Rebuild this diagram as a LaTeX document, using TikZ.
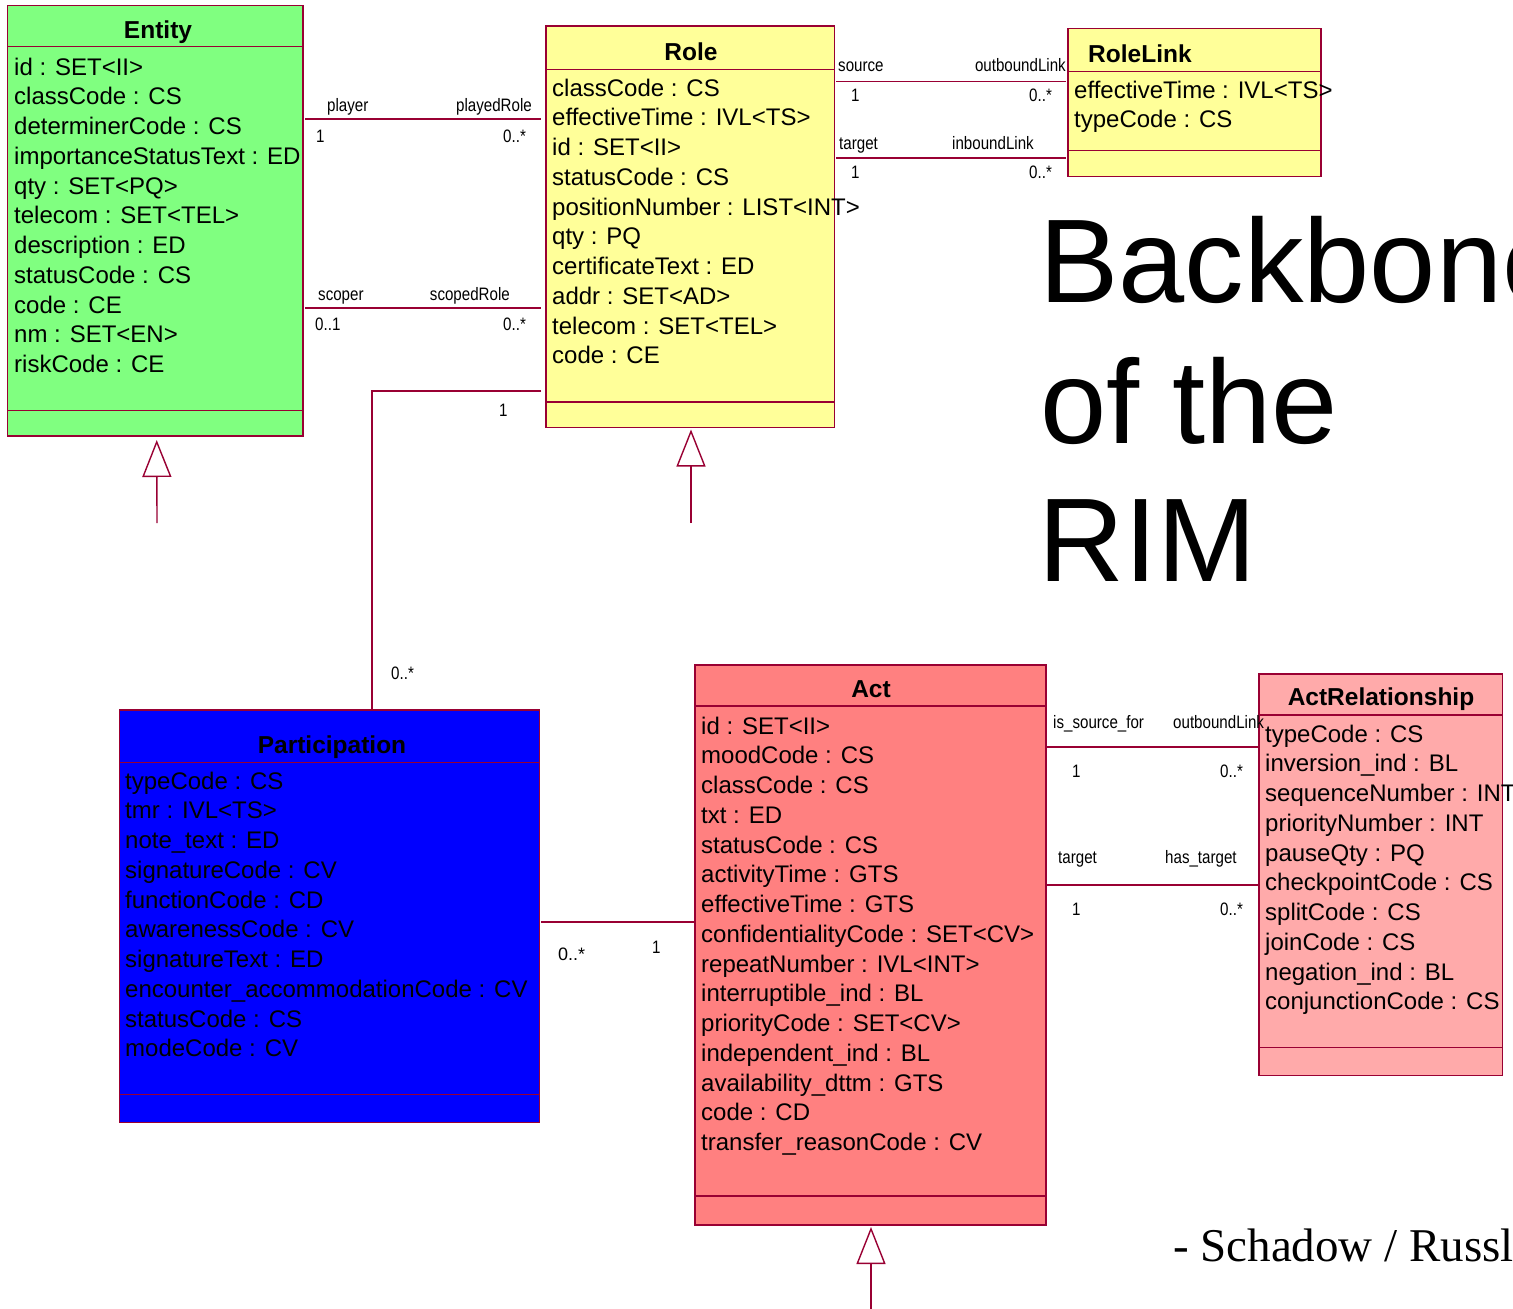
\documentclass[tikz,border=0pt]{standalone}
\usepackage{fontspec}
\setmainfont{Liberation Sans}
\newfontfamily\narrowf[FakeStretch=0.84]{Liberation Sans}
\newfontfamily\timesf{Liberation Serif}
\usetikzlibrary{arrows.meta}
\definecolor{bord}{RGB}{153,0,51}
\definecolor{entfill}{RGB}{128,255,128}
\definecolor{rolefill}{RGB}{255,255,153}
\definecolor{partfill}{RGB}{0,0,255}
\definecolor{actfill}{RGB}{255,128,128}
\definecolor{arfill}{RGB}{255,170,170}
\newcommand\attrlist[4]{%
  \foreach \t [count=\i] in {#4} {%
    \node[attr] (#1-\i) at (#2, {#3+(\i-1)*29.75}) {\t};}}
\newcommand\umlbox[8]{% name, fill, left, top, right, bottom, titlesep, bottomsep
  \node[umlbox, fill=#2, minimum width={(#5-#3)*1pt}, minimum height={(#6-#4)*1pt}, anchor=north west] (#1) at (#3,#4) {};
  \draw[boxline] (#3,#7) -- (#5,#7);
  \draw[boxline] (#3,#8) -- (#5,#8);}
\begin{document}
\begin{tikzpicture}[x=1pt,y=-1pt,
  umlbox/.style={draw=bord, line width=1.6pt, inner sep=0pt, outer sep=0pt},
  boxline/.style={draw=bord, line width=1.4pt},
  attr/.style={font=\fontsize{24}{29}\selectfont, anchor=base west, inner sep=0pt},
  title/.style={font=\bfseries\fontsize{24.5}{29}\selectfont, anchor=base, inner sep=0pt},
  lab/.style={font=\narrowf\fontsize{18}{20}\selectfont, inner sep=0pt, anchor=base west},
  labr/.style={lab, anchor=base east},
  assoc/.style={draw=bord, line width=1.3pt},
  gen/.style={draw=bord, line width=1.4pt, -{Triangle[open, length=37pt, width=29pt, line width=1.4pt]}},
  big/.style={font=\fontsize{119}{140}\selectfont, anchor=base west, inner sep=0pt}]
\useasboundingbox (0,0) rectangle (1513,1309);
\clip (0,0) rectangle (1513,1309);
\fill[white] (0,0) rectangle (1513,1309);

% ---------- Entity ----------
\umlbox{ent}{entfill}{7.5}{5.5}{303}{436}{46.7}{410.5}
\node[title] (entT) at (158,38) {Entity};
\attrlist{ent}{14}{75}{id : SET<II>, classCode : CS, determinerCode : CS, importanceStatusText : ED, qty : SET<PQ>, telecom : SET<TEL>, description : ED, statusCode : CS, code : CE, nm : SET<EN>, riskCode : CE}

% ---------- Role ----------
\umlbox{role}{rolefill}{546}{26}{834.5}{427.5}{69.3}{402}
\node[title] (roleT) at (691,60) {Role};
\attrlist{role}{552}{96}{classCode : CS, effectiveTime : IVL<TS>, id : SET<II>, statusCode : CS, positionNumber : LIST<INT>, qty : PQ, certificateText : ED, addr : SET<AD>, telecom : SET<TEL>, code : CE}

% ---------- RoleLink ----------
\umlbox{rl}{rolefill}{1068}{28.3}{1321}{176.5}{71.7}{150.7}
\node[title, anchor=base west] (rlT) at (1088,62) {RoleLink};
\attrlist{rl}{1074}{98}{effectiveTime : IVL<TS>, typeCode : CS}

% ---------- Participation ----------
\umlbox{part}{partfill}{119.5}{710}{539.3}{1122.3}{762.3}{1094.3}
\node[title] (partT) at (332,753) {Participation};
\attrlist{part}{125}{789}{typeCode : CS, tmr : IVL<TS>, note\_text : ED, signatureCode : CV, functionCode : CD, awarenessCode : CV, signatureText : ED, encounter\_accommodationCode : CV, statusCode : CS, modeCode : CV}

% ---------- Act ----------
\umlbox{act}{actfill}{695}{665}{1046}{1225}{706}{1196}
\node[title] (actT) at (871,697) {Act};
\attrlist{act}{701}{734}{id : SET<II>, moodCode : CS, classCode : CS, txt : ED, statusCode : CS, activityTime : GTS, effectiveTime : GTS, confidentialityCode : SET<CV>, repeatNumber : IVL<INT>, interruptible\_ind : BL, priorityCode : SET<CV>, independent\_ind : BL, availability\_dttm : GTS, code : CD, transfer\_reasonCode : CV}

% ---------- ActRelationship ----------
\umlbox{ar}{arfill}{1258.7}{674}{1502.3}{1075.3}{715}{1047.3}
\node[title] (arT) at (1381,705) {ActRelationship};
\attrlist{ar}{1265}{742}{typeCode : CS, inversion\_ind : BL, sequenceNumber : INT, priorityNumber : INT, pauseQty : PQ, checkpointCode : CS, splitCode : CS, joinCode : CS, negation\_ind : BL, conjunctionCode : CS}

% ---------- Entity -- Role associations ----------
\draw[assoc] ([xshift=2pt]ent.east |- 0,119) -- ([xshift=-5pt]role.west |- 0,119);
\node[lab] (l1) at (327,111) {player};
\node[labr] (l2) at (532,111) {playedRole};
\node[lab] (l3) at (316,142.7) {1};
\node[lab] (l4) at (503,142.7) {0..*};
\draw[assoc] ([xshift=2pt]ent.east |- 0,308) -- ([xshift=-5pt]role.west |- 0,308);
\node[lab] (l5) at (318,300) {scoper};
\node[labr] (l6) at (510,300) {scopedRole};
\node[lab] (l7) at (315,330) {0..1};
\node[lab] (l8) at (503,330) {0..*};

% ---------- Role -- Participation ----------
\draw[assoc] ([xshift=-5pt]role.west |- 0,391) -| ([xshift=42.5pt]part.north);
\node[lab] (l9) at (499,416) {1};
\node[lab] (l10) at (391,679) {0..*};

% ---------- Role -- RoleLink ----------
\draw[assoc] ([xshift=1.5pt]role.east |- 0,81.7) -- ([xshift=-2pt]rl.west |- 0,81.7);
\node[lab] (l11) at (838,71.7) {source};
\node[labr] (l12) at (1066,71.7) {outboundLink};
\node[lab] (l13) at (851,101.7) {1};
\node[lab] (l14) at (1029,101.7) {0..*};
\draw[assoc] ([xshift=1.5pt]role.east |- 0,158) -- ([xshift=-2pt]rl.west |- 0,158);
\node[lab] (l15) at (839,149) {target};
\node[lab] (l16) at (952,149) {inboundLink};
\node[lab] (l17) at (851,178) {1};
\node[lab] (l18) at (1029,178) {0..*};

% ---------- Participation -- Act ----------
\draw[assoc] ([xshift=2pt]part.east |- 0,922) -- (act.west |- 0,922);
\node[lab, font=\fontsize{18}{20}\selectfont] (l19) at (558,960) {0..*};
\node[lab] (l20) at (652,953) {1};

% ---------- Act -- ActRelationship ----------
\draw[assoc] ([xshift=1pt]act.east |- 0,747) -- (ar.west |- 0,747);
\node[lab] (l21) at (1053,728) {is\_source\_for};
\node[lab] (l22) at (1173,728) {outboundLink};
\node[lab] (l23) at (1072,777) {1};
\node[lab] (l24) at (1220,777) {0..*};
\draw[assoc] ([xshift=1pt]act.east |- 0,885) -- (ar.west |- 0,885);
\node[lab] (l25) at (1058,863) {target};
\node[lab] (l26) at (1165,863) {has\_target};
\node[lab] (l27) at (1072,915) {1};
\node[lab] (l28) at (1220,915) {0..*};

% ---------- Generalizations ----------
\coordinate (entg) at (157,523);
\draw[gen] (entg) -- ([xshift=1.5pt,yshift=-4pt]ent.south);
\coordinate (roleg) at (691,523);
\draw[gen] (roleg) -- ([xshift=0.75pt,yshift=-2pt]role.south);
\coordinate (actg) at (871,1309);
\draw[gen] (actg) -- ([xshift=0.5pt,yshift=-2pt]act.south);

% ---------- Title text ----------
\node[big] (bb1) at (1039,302) {Backbone};
\node[big] (bb2) at (1040,443) {of the};
\node[big] (bb3) at (1038,581) {RIM};
\node[font=\timesf\fontsize{47}{50}\selectfont, anchor=base west, inner sep=0pt] (auth) at (1173,1261) {- Schadow / Russler};
\end{tikzpicture}
\end{document}
